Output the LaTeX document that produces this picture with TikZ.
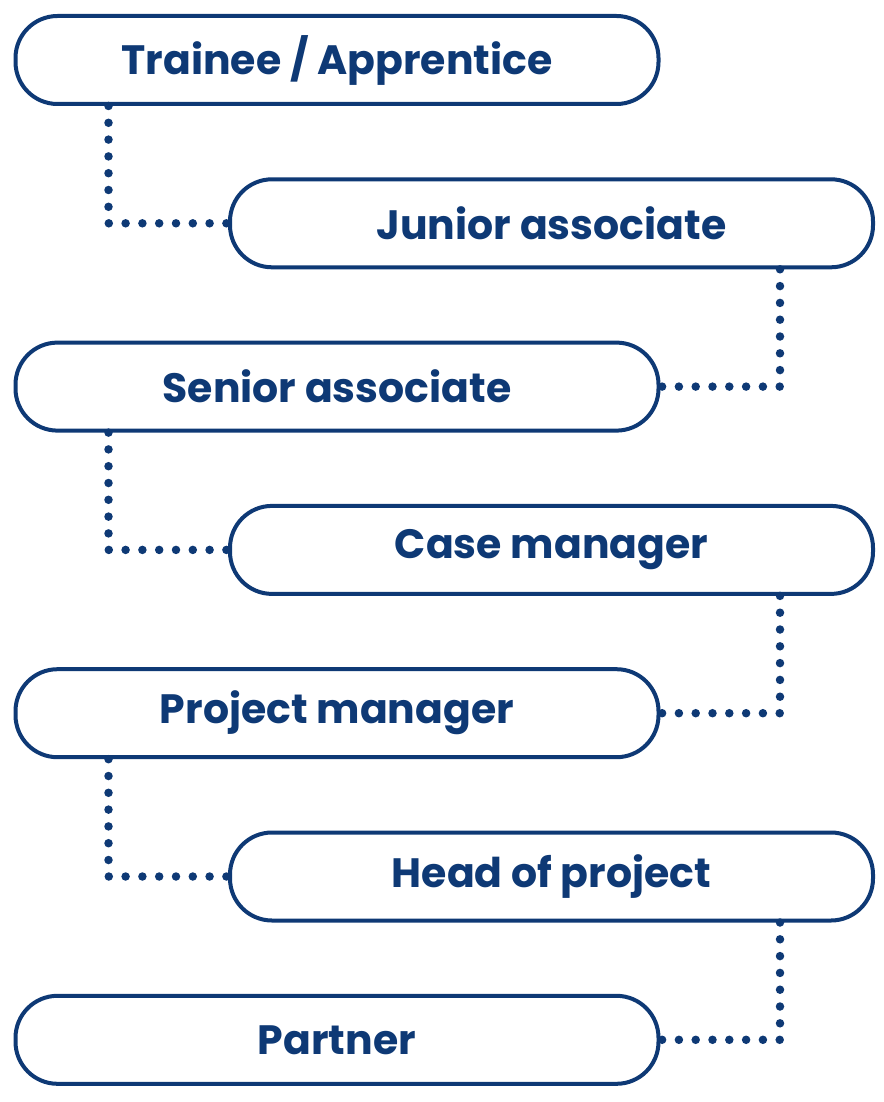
\documentclass[tikz,border=0pt]{standalone}
\usepackage{fontspec}
\setmainfont{Poppins}
\usepackage{xcolor}
\usepackage{tikz}
\usetikzlibrary{positioning}
\definecolor{careernavy}{HTML}{0E3975}

\begin{document}
\begin{tikzpicture}[x=1pt,y=-1pt,node distance=71.3pt,font=\fontsize{41}{46}\selectfont\bfseries]

\tikzset{
lbox/.style={
    draw=careernavy,
    line width=4pt,
    rounded corners=42pt,
    fill=white,
    text=careernavy,
    minimum width=643pt,
    minimum height=88pt,
    align=center
},
rbox/.style={
    lbox
},
dots/.style={
    draw=careernavy,
    line width=8.5pt,
    line cap=round,
    dash pattern=on 0pt off 16.8pt
}
}

\useasboundingbox (0,0) rectangle (883,1102);

\node[lbox] (trainee) at (337,60) {Trainee / Apprentice};
\node[rbox,below=of trainee.south,xshift=214.5pt] (junior) {Junior associate};
\node[lbox,below=of junior.south,xshift=-214.5pt] (senior) {Senior associate};
\node[rbox,below=of senior.south,xshift=214.5pt] (casemgr) {Case manager};
\node[lbox,below=of casemgr.south,xshift=-214.5pt] (projmgr) {Project manager};
\node[rbox,below=of projmgr.south,xshift=214.5pt] (headproj) {Head of project};
\node[lbox,below=of headproj.south,xshift=-214.5pt] (partner) {Partner};

% left side steps
\draw[dots] ([xshift=95pt]trainee.south west) |- (junior.west);
\draw[dots] ([xshift=95pt]senior.south west) |- (casemgr.west);
\draw[dots] ([xshift=95pt]projmgr.south west) |- (headproj.west);

% right side steps
\draw[dots] ([xshift=-95pt]junior.south east) |- (senior.east);
\draw[dots] ([xshift=-95pt]casemgr.south east) |- (projmgr.east);
\draw[dots] ([xshift=-95pt]headproj.south east) |- (partner.east);

\end{tikzpicture}
\end{document}
